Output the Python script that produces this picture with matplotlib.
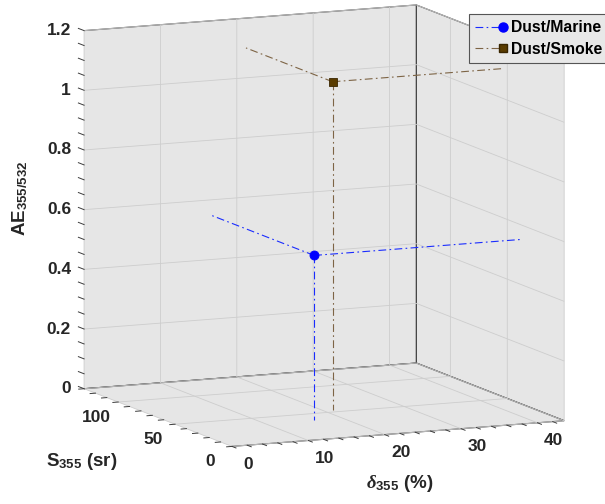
import numpy as np
import matplotlib
matplotlib.use('Agg')
import matplotlib.pyplot as plt
from matplotlib.lines import Line2D
from mpl_toolkits.mplot3d import proj3d

plt.rcParams['font.family'] = ['Liberation Sans', 'DejaVu Sans']
plt.rcParams['font.weight'] = 'bold'
plt.rcParams['mathtext.fontset'] = 'custom'
plt.rcParams['mathtext.rm'] = 'Liberation Sans:bold'
plt.rcParams['mathtext.bf'] = 'Liberation Sans:bold'
plt.rcParams['mathtext.it'] = 'Liberation Serif:italic'
plt.rcParams['grid.color'] = '#cdcdcd'
plt.rcParams['grid.linewidth'] = 0.6

# ---- data ----
groups = ['Dust/Marine', 'Dust/Smoke']
delta355 = [16.5, 21.2]        # particle depol. ratio, %
lidar_ratio355 = [38.5, 53.8]  # sr
ae355_532 = [0.55, 1.10]
line_colors = ['#1a2cff', '#7d6445']
marker_colors = ['#0000ff', '#5a3c00']
marker_edges = ['#0000ff', '#3a2600']
markers = ['o', 's']
marker_sizes = [6.5, 5.5]

x_lim = (0, 43.5)
y_lim = (0, 130)
z_lim = (0, 1.2)
x_ticks = [0, 10, 20, 30, 40]
y_ticks = [0, 50, 100]
z_ticks = [0, 0.2, 0.4, 0.6, 0.8, 1.0, 1.2]
z_ticklabels = ['0', '0.2', '0.4', '0.6', '0.8', '1', '1.2']
x_minor = np.arange(0, 43.5, 2)
y_minor = np.arange(0, 131, 10)
z_minor = np.arange(0, 1.201, 0.05)

W, H = 605, 504
dash = (0, (7, 3, 1.5, 3))

fig = plt.figure(figsize=(W / 100, H / 100), dpi=100)
ax = fig.add_axes([0.1, 0.1, 0.8 * H / W, 0.8], projection='3d', computed_zorder=False)
ax.set_proj_type('ortho')
ax.set_box_aspect((1, 1, 1))
ax.set_xlim(x_lim)
ax.set_ylim(y_lim)
ax.set_zlim(z_lim)
ax.set_xticks(x_ticks, [''] * len(x_ticks))
ax.set_yticks(y_ticks, [''] * len(y_ticks))
ax.set_zticks(z_ticks, [''] * len(z_ticks))

for axis in (ax.xaxis, ax.yaxis, ax.zaxis):
    axis.set_pane_color('#e6e6e6')
    axis.pane.set_edgecolor('#3c3c3c')
    axis.pane.set_linewidth(0.8)
    axis.line.set_color('none')
    axis._axinfo['tick']['inward_factor'] = 0.0
    axis._axinfo['tick']['outward_factor'] = 0.0
    axis.set_tick_params(color='none')
ax.grid(True)

# box corners of the reference (pixels, y down) used to place the cube
x0, x1 = x_lim
y0, y1 = y_lim
z0, z1 = z_lim
cx = np.array([x0, x0, x1, x1, x1, x1, x0], float)
cy = np.array([y1, y1, y1, y1, y0, y0, y0], float)
cz = np.array([z0, z1, z1, z0, z1, z0, z0], float)
tgt = np.array([(84, 388), (84, 30), (417, 5), (417, 363),
                (563, 62), (563, 421), (233, 448)], float)
tgt[:, 1] = H - tgt[:, 1]


def fit(p):
    n = len(p)
    A = np.zeros((2 * n, 3))
    b = np.concatenate([tgt[:, 0], tgt[:, 1]])
    A[:n, 0] = p[:, 0]
    A[:n, 1] = 1
    A[n:, 0] = p[:, 1]
    A[n:, 2] = 1
    sol = np.linalg.lstsq(A, b, rcond=None)[0]
    return sol, np.sum((A @ sol - b) ** 2)


def proj2d(xs, ys, zs):
    px, py, _ = proj3d.proj_transform(np.asarray(xs, float), np.asarray(ys, float),
                                      np.asarray(zs, float), ax.get_proj())
    return np.column_stack([px, py])


best = None
for el in np.arange(6, 16, 0.25):
    for az in np.arange(-122, -106, 0.25):
        ax.view_init(elev=el, azim=az)
        err = fit(proj2d(cx, cy, cz))[1]
        if best is None or err < best[0]:
            best = (err, el, az)
ax.view_init(elev=best[1], azim=best[2])

for _ in range(2):
    fig.canvas.draw()
    pts = ax.transData.transform(proj2d(cx, cy, cz))
    (k, tx, ty), _err = fit(pts)
    pos = ax.get_position(original=True)
    L, B, S = pos.x0 * W, pos.y0 * H, pos.width * W
    ax.set_position([(k * L + tx) / W, (k * B + ty) / H, k * S / W, k * S / H])
fig.canvas.draw()

# ---- data marks: point plus projection lines to the walls / floor ----
for i in range(len(groups)):
    x, y, z = delta355[i], lidar_ratio355[i], ae355_532[i]
    kw = dict(color=line_colors[i], lw=0.8, ls=dash, zorder=3)
    ax.plot([x, x], [y, y], [z, z0], **kw)
    ax.plot([x, x], [y, y1], [z, z], **kw)
    ax.plot([x, x1], [y, y], [z, z], **kw)
    ax.plot([x], [y], [z], ls='none', marker=markers[i], ms=marker_sizes[i],
            mfc=marker_colors[i], mec=marker_edges[i], mew=0.6, zorder=5)

# ---- ticks (major + minor), drawn like the MATLAB box ----
tk = dict(color='#3c3c3c', lw=0.7, zorder=2, clip_on=False)
for t in x_minor:
    ax.plot([t, t], [y0, y0 - 3.5], [z0, z0], **tk)
for t in y_minor:
    ax.plot([x0, x0 - 0.7], [t, t], [z0, z0], **tk)
for t in z_minor:
    ax.plot([x0, x0], [y1, y1 + 5], [t, t], **tk)

# ---- tick labels ----
def to_fig(xs, ys, zs):
    return ax.transData.transform(proj2d(xs, ys, zs))

fs_tick = 12.5
p = to_fig(x_ticks, [y0] * len(x_ticks), [z0] * len(x_ticks))
for (px, py), t in zip(p, x_ticks):
    fig.text((px + 16) / W, (py - 18) / H, str(t), ha='center', va='center',
             fontsize=fs_tick, fontweight='bold', color='#262626')
p = to_fig([x0] * len(y_ticks), y_ticks, [z0] * len(y_ticks))
for (px, py), t in zip(p, y_ticks):
    fig.text((px - 22) / W, (py - 15) / H, str(t), ha='center', va='center',
             fontsize=fs_tick, fontweight='bold', color='#262626')
p = to_fig([x0] * len(z_ticks), [y1] * len(z_ticks), z_ticks)
for (px, py), t in zip(p, z_ticklabels):
    fig.text((px - 13) / W, py / H, t, ha='right', va='center',
             fontsize=fs_tick, fontweight='bold', color='#262626')

# ---- axis labels ----
fig.text(20 / W, 1 - 198 / H, r'AE$_{\mathbf{355/532}}$', rotation=90,
         ha='center', va='center', fontsize=13.5, fontweight='bold', color='#262626')
fig.text(82 / W, 1 - 462 / H, r'S$_{\mathbf{355}}$ (sr)',
         ha='center', va='center', fontsize=13.5, fontweight='bold', color='#262626')
fig.text(400 / W, 1 - 484 / H, r'$\delta_{\mathbf{355}}$ (%)',
         ha='center', va='center', fontsize=13.5, fontweight='bold', color='#262626')

# ---- legend (runs off the right edge, as in the original) ----
handles = [Line2D([], [], color=line_colors[i], lw=0.8, ls=dash, marker=markers[i],
                  ms=marker_sizes[i], mfc=marker_colors[i], mec=marker_edges[i])
           for i in range(len(groups))]
leg = fig.legend(handles, groups, loc='upper left', bbox_to_anchor=(469 / W, 1 - 14 / H),
                 prop={'size': 11.3, 'weight': 'bold'}, frameon=True, fancybox=False,
                 edgecolor='#555555', facecolor='#e8e8e8', framealpha=1,
                 handlelength=1.75, handletextpad=0.55, borderpad=0.4,
                 labelspacing=0.4, borderaxespad=0, numpoints=1)
leg.get_frame().set_linewidth(0.8)
for h in leg.legend_handles:
    h.set_markevery([2])

fig.savefig('out.png', dpi=100)
